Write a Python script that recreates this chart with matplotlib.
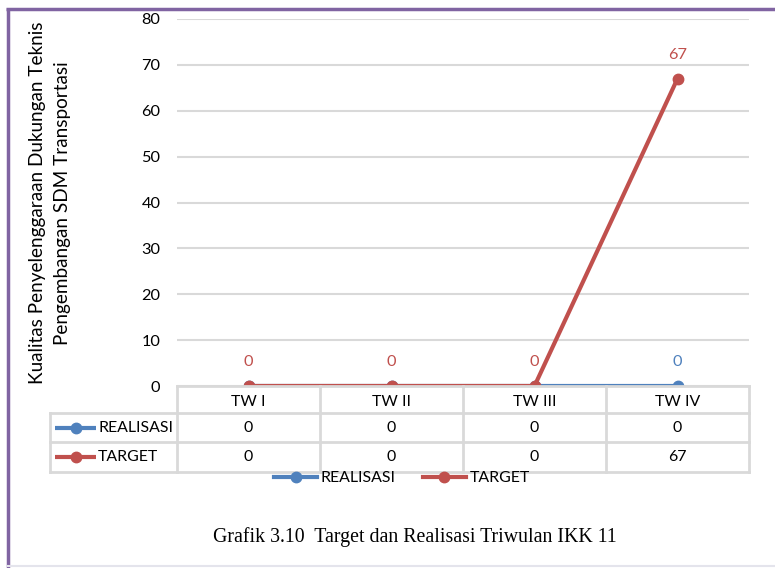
import matplotlib
matplotlib.use('Agg')
import matplotlib.pyplot as plt
from matplotlib.lines import Line2D

# data
categories = ['TW I', 'TW II', 'TW III', 'TW IV']
realisasi = [0, 0, 0, 0]
target = [0, 0, 0, 67]
series_names = ['REALISASI', 'TARGET']
ylabel = 'Kualitas Penyelenggaraan Dukungan Teknis\nPengembangan SDM Transportasi'
caption = 'Grafik 3.10  Target dan Realisasi Triwulan IKK 11'

blue = '#4F81BD'
red = '#C0504D'
grid = '#D9D9D9'
W, H = 775, 568
FS = 11.4
plt.rcParams['font.family'] = ['Lato', 'DejaVu Sans']

fig = plt.figure(figsize=(W / 100, H / 100), dpi=100)

def fx(px):
    return px / W

def fy(py):
    return 1 - py / H

# plot area
left, right, top, bottom = 177, 749, 19, 386
ax = fig.add_axes([fx(left), fy(bottom), fx(right - left), fy(top) - fy(bottom)])
x = list(range(len(categories)))
ax.plot(x, realisasi, color=blue, lw=3, marker='o', ms=7.5, zorder=3)
ax.plot(x, target, color=red, lw=3, marker='o', ms=7.5, zorder=4)
ax.set_xlim(-0.5, len(categories) - 0.5)
ax.set_ylim(0, 80)
ax.set_yticks(range(0, 81, 10))
ax.set_xticks([])
ax.tick_params(axis='y', length=0, pad=12, labelsize=FS + 0.4)
ax.yaxis.grid(True, color=grid, lw=1.5)
ax.set_axisbelow(True)
for s in ax.spines.values():
    s.set_visible(False)

# data labels
for i in range(len(categories)):
    if realisasi[i] != target[i]:
        ax.annotate(str(realisasi[i]), (i, realisasi[i]), xytext=(0, 12),
                    textcoords='offset points', ha='center', va='bottom',
                    color=blue, fontsize=FS + 0.4)
    ax.annotate(str(target[i]), (i, target[i]), xytext=(0, 12),
                textcoords='offset points', ha='center', va='bottom',
                color=red, fontsize=FS + 0.4)

fig.text(fx(50), fy(203), ylabel, rotation=90, ha='center', va='center',
         fontsize=13.6, linespacing=1.6)

# data table
tleft = 50
rows = [386, 413, 442, 472]
col_w = (right - left) / len(categories)
tab = fig.add_axes([0, 0, 1, 1], facecolor='none')
tab.set_xlim(0, W)
tab.set_ylim(H, 0)
tab.axis('off')
tab.plot([left, right], [rows[0], rows[0]], color=grid, lw=2)
for r in rows[1:]:
    tab.plot([tleft, right], [r, r], color=grid, lw=2)
tab.plot([tleft, tleft], [rows[1], rows[-1]], color=grid, lw=2)
for j in range(len(categories) + 1):
    xx = left + j * col_w
    tab.plot([xx, xx], [rows[0], rows[-1]], color=grid, lw=2)
for j, c in enumerate(categories):
    cx = left + (j + 0.5) * col_w
    tab.text(cx, (rows[0] + rows[1]) / 2 + 2, c, ha='center', va='center', fontsize=FS)
    tab.text(cx, (rows[1] + rows[2]) / 2, str(realisasi[j]), ha='center', va='center', fontsize=FS)
    tab.text(cx, (rows[2] + rows[3]) / 2, str(target[j]), ha='center', va='center', fontsize=FS)
for k, (name, col) in enumerate(zip(series_names, [blue, red])):
    cy = (rows[k + 1] + rows[k + 2]) / 2
    tab.plot([55, 96], [cy, cy], color=col, lw=3, solid_capstyle='butt')
    tab.plot([75.5], [cy], color=col, marker='o', ms=7.5)
    tab.text(98, cy, name, ha='left', va='center', fontsize=FS)

# legend
handles = [Line2D([], [], color=c, lw=3, marker='o', ms=7.5) for c in [blue, red]]
fig.legend(handles, series_names, loc='center', bbox_to_anchor=(fx(402), fy(478)),
           ncol=2, frameon=False, fontsize=FS, handlelength=2.7,
           handletextpad=0.25, columnspacing=1.7)

# caption
fig.text(fx(415), fy(537), caption, ha='center', va='center', fontsize=14.3,
         family=['Liberation Serif', 'DejaVu Serif'])

# frame
tab.plot([6, W], [8.5, 8.5], color='#8064A2', lw=2.5, solid_capstyle='butt')
tab.plot([8, 8], [8, H], color='#8064A2', lw=2.5, solid_capstyle='butt')
tab.plot([8, W], [566, 566], color='#E4E4EC', lw=1.5)

fig.savefig('out.png', dpi=100)
